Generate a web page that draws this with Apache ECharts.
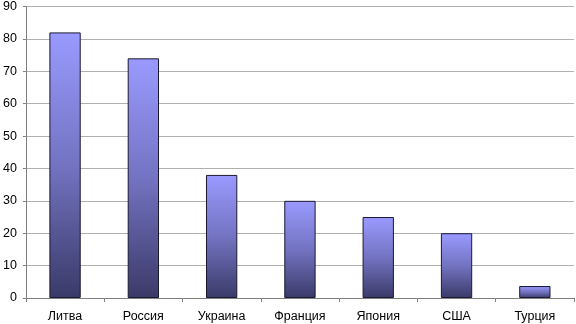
<!DOCTYPE html>
<html>
<head>
<meta charset="utf-8">
<script src="https://cdn.jsdelivr.net/npm/echarts@6/dist/echarts.min.js"></script>
<style>
  html, body { margin: 0; padding: 0; background: #fff; }
  #chart { width: 576px; height: 324px; }
</style>
</head>
<body>
<div id="chart"></div>
<script>
var categories = ['Литва', 'Россия', 'Украина', 'Франция', 'Япония', 'США', 'Турция']
var values = [82, 74, 38, 30, 25, 20, 3.7]
var yTicks = [0, 90, 10] // min, max, interval

var chart = echarts.init(document.getElementById('chart'))

// заливка столбцов: светлый сверху, тёмный снизу
var barFill = new echarts.graphic.LinearGradient(0, 0, 0, 1, [
  { offset: 0, color: '#9a9aff' },
  { offset: 0.5, color: '#7373c2' },
  { offset: 1, color: '#3a3a68' }
])

chart.setOption({
  animation: false,
  grid: { left: 24, right: 2, top: 5, bottom: 26, containLabel: false },
  xAxis: {
    type: 'category',
    data: categories,
    axisLine: { lineStyle: { color: '#808080', width: 1 } },
    axisTick: { show: true, length: 4, lineStyle: { color: '#808080' } },
    axisLabel: { color: '#000', fontFamily: 'Liberation Sans', fontSize: 12.5, margin: 12 }
  },
  yAxis: {
    type: 'value',
    min: yTicks[0],
    max: yTicks[1],
    interval: yTicks[2],
    axisLine: { show: true, lineStyle: { color: '#808080', width: 1 } },
    axisTick: { show: true, length: 3, lineStyle: { color: '#808080' } },
    axisLabel: { color: '#000', fontFamily: 'Liberation Sans', fontSize: 12.5, margin: 9 },
    splitLine: { lineStyle: { color: '#b0b0b0', width: 1 } }
  },
  series: [{
    type: 'bar',
    data: values,
    barWidth: '40%',
    itemStyle: { color: barFill, borderColor: '#1a1a33', borderWidth: 1 }
  }]
})
</script>
</body>
</html>
